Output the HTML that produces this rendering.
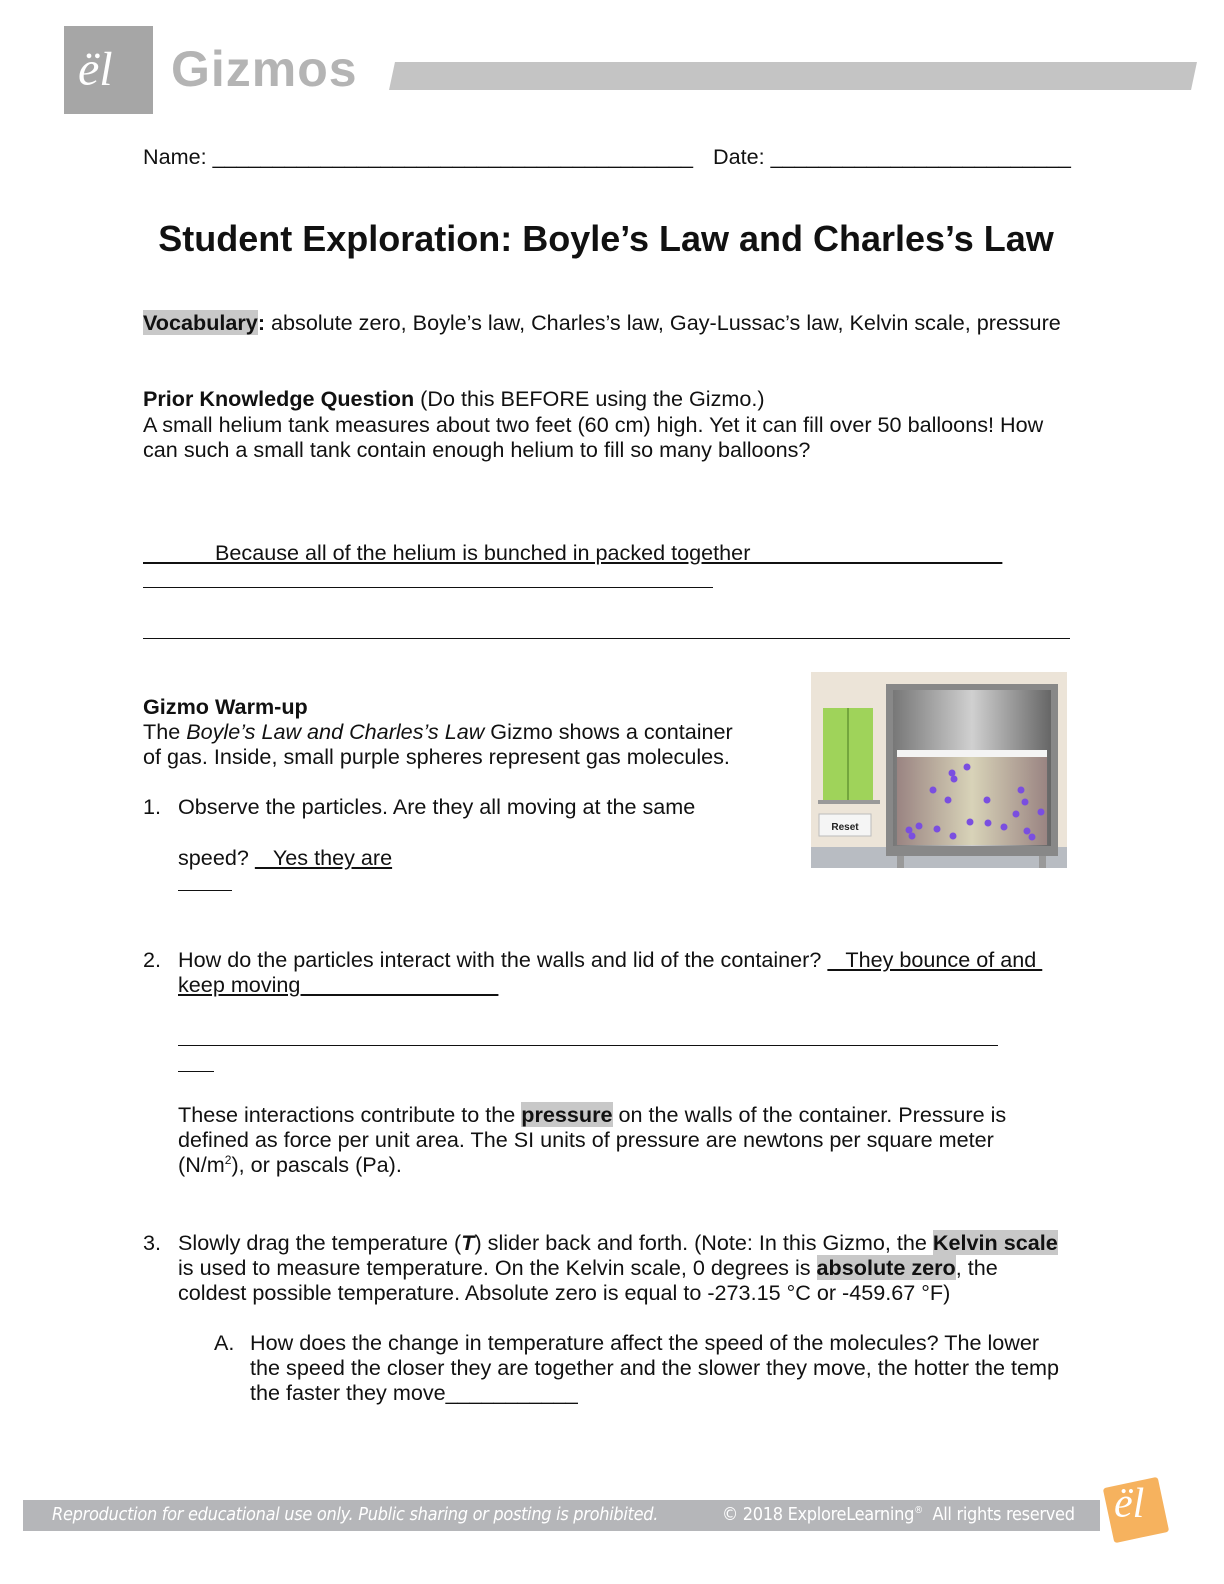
<!DOCTYPE html>
<html><head><meta charset="utf-8"><style>
body{margin:0;width:1224px;height:1584px;position:relative;background:#fff;font-family:"Liberation Sans",sans-serif;color:#111;overflow:hidden}
.t{position:absolute;font-size:21.6px;line-height:25px;white-space:nowrap}
.u{text-decoration:underline}
.hl{background:#c8c8c8}
b{font-weight:bold}
</style></head><body>
<div style="position:absolute;left:64px;top:26px;width:89px;height:88px;background:#a6a6a6"></div>
<div style="position:absolute;left:78px;top:42px;font:italic 48px 'Liberation Serif',serif;color:#fff">ël</div>
<div style="position:absolute;left:171px;top:40px;font:bold 50px 'Liberation Sans',sans-serif;color:#b4b4b4;letter-spacing:1px">Gizmos</div>
<div style="position:absolute;left:392px;top:62px;width:802px;height:28px;background:#c4c4c4;transform:skewX(-12deg)"></div>

<div class="t" style="left:143px;top:144px">Name: ________________________________________</div>
<div class="t" style="left:713px;top:144px">Date: _________________________</div>
<div style="position:absolute;left:0;width:1212px;top:218px;text-align:center;font-size:36px;font-weight:bold;white-space:nowrap">Student Exploration: Boyle’s Law and Charles’s Law</div>

<div class="t" style="left:143px;top:310px"><b class="hl">Vocabulary</b><b>:</b> absolute zero, Boyle’s law, Charles’s law, Gay-Lussac’s law, Kelvin scale, pressure</div>

<div class="t" style="left:143px;top:386px"><b>Prior Knowledge Question</b> (Do this BEFORE using the Gizmo.)</div>
<div class="t" style="left:143px;top:412px">A small helium tank measures about two feet (60 cm) high. Yet it can fill over 50 balloons! How</div>
<div class="t" style="left:143px;top:437px">can such a small tank contain enough helium to fill so many balloons?</div>
<div class="t u" style="left:143px;top:540px">&nbsp;&nbsp;&nbsp;&nbsp;&nbsp;&nbsp;&nbsp;&nbsp;&nbsp;&nbsp;&nbsp;&nbsp;Because all of the helium is bunched in packed together&nbsp;&nbsp;&nbsp;&nbsp;&nbsp;&nbsp;&nbsp;&nbsp;&nbsp;&nbsp;&nbsp;&nbsp;&nbsp;&nbsp;&nbsp;&nbsp;&nbsp;&nbsp;&nbsp;&nbsp;&nbsp;&nbsp;&nbsp;&nbsp;&nbsp;&nbsp;&nbsp;&nbsp;&nbsp;&nbsp;&nbsp;&nbsp;&nbsp;&nbsp;&nbsp;&nbsp;&nbsp;&nbsp;&nbsp;&nbsp;&nbsp;&nbsp;</div>
<div style="position:absolute;left:143px;top:587px;width:570px;border-top:1px solid #111"></div>
<div style="position:absolute;left:143px;top:638px;width:927px;border-top:1px solid #111"></div>

<div class="t" style="left:143px;top:694px"><b>Gizmo Warm-up</b></div>
<div class="t" style="left:143px;top:719px">The <i>Boyle’s Law and Charles’s Law</i> Gizmo shows a container</div>
<div class="t" style="left:143px;top:744px">of gas. Inside, small purple spheres represent gas molecules.</div>
<div class="t" style="left:143px;top:794px">1.</div>
<div class="t" style="left:178px;top:794px">Observe the particles. Are they all moving at the same</div>
<div class="t" style="left:178px;top:845px">speed? <span class="u">&nbsp;&nbsp;&nbsp;Yes they are</span></div>
<div style="position:absolute;left:178px;top:890px;width:54px;border-top:1px solid #111"></div>

<svg style="position:absolute;left:811px;top:672px" width="256" height="196" viewBox="0 0 256 196">
<defs>
<linearGradient id="lid" x1="0" x2="1"><stop offset="0" stop-color="#777"/><stop offset=".5" stop-color="#d0d0d0"/><stop offset="1" stop-color="#666"/></linearGradient>
<linearGradient id="gas" x1="0" x2="1"><stop offset="0" stop-color="#9a8482"/><stop offset=".5" stop-color="#d8d3b8"/><stop offset="1" stop-color="#9a8482"/></linearGradient>
</defs>
<rect width="256" height="196" fill="#ece4d8"/>
<rect y="175" width="256" height="21" fill="#b8bcc2"/>
<rect x="12" y="36" width="50" height="92" fill="#9fd35a"/>
<line x1="37" y1="36" x2="37" y2="128" stroke="#4a7a20"/>
<rect x="7" y="128" width="62" height="4" fill="#999"/>
<rect x="8" y="142" width="52" height="22" fill="#f5f5f5" stroke="#bbb"/>
<text x="34" y="158" text-anchor="middle" font-family="Liberation Sans" font-weight="bold" font-size="10" fill="#222">Reset</text>
<rect x="75" y="12" width="172" height="172" fill="#888"/>
<rect x="82" y="18" width="158" height="156" fill="url(#lid)"/>
<rect x="86" y="78" width="150" height="7" fill="#f4f4f4"/>
<rect x="86" y="85" width="150" height="88" fill="url(#gas)"/>
<g fill="#7a4ee0">
<circle cx="156" cy="95" r="3.5"/><circle cx="141" cy="101" r="3.5"/><circle cx="143" cy="107" r="3.5"/><circle cx="122" cy="118" r="3.5"/><circle cx="137" cy="128" r="3.5"/><circle cx="176" cy="128" r="3.5"/><circle cx="210" cy="118" r="3.5"/><circle cx="214" cy="130" r="3.5"/><circle cx="108" cy="154" r="3.5"/><circle cx="126" cy="157" r="3.5"/><circle cx="142" cy="164" r="3.5"/><circle cx="177" cy="151" r="3.5"/><circle cx="193" cy="155" r="3.5"/><circle cx="216" cy="159" r="3.5"/><circle cx="98" cy="158" r="3.5"/><circle cx="101" cy="164" r="3.5"/><circle cx="159" cy="150" r="3.5"/><circle cx="205" cy="142" r="3.5"/><circle cx="221" cy="165" r="3.5"/><circle cx="230" cy="140" r="3.5"/>
</g>
<rect x="86" y="184" width="7" height="12" fill="#999"/><rect x="228" y="184" width="7" height="12" fill="#999"/>
</svg>

<div class="t" style="left:143px;top:947px">2.</div>
<div class="t" style="left:178px;top:947px">How do the particles interact with the walls and lid of the container? <span class="u">&nbsp;&nbsp;&nbsp;They bounce of and&nbsp;</span></div>
<div class="t u" style="left:178px;top:972px">keep moving&nbsp;&nbsp;&nbsp;&nbsp;&nbsp;&nbsp;&nbsp;&nbsp;&nbsp;&nbsp;&nbsp;&nbsp;&nbsp;&nbsp;&nbsp;&nbsp;&nbsp;&nbsp;&nbsp;&nbsp;&nbsp;&nbsp;&nbsp;&nbsp;&nbsp;&nbsp;&nbsp;&nbsp;&nbsp;&nbsp;&nbsp;&nbsp;&nbsp;</div>
<div style="position:absolute;left:178px;top:1045px;width:820px;border-top:1px solid #111"></div>
<div style="position:absolute;left:178px;top:1071px;width:36px;border-top:1px solid #111"></div>
<div class="t" style="left:178px;top:1102px">These interactions contribute to the <b class="hl">pressure</b> on the walls of the container. Pressure is</div>
<div class="t" style="left:178px;top:1127px">defined as force per unit area. The SI units of pressure are newtons per square meter</div>
<div class="t" style="left:178px;top:1152px">(N/m<sup style="font-size:12px;line-height:0">2</sup>), or pascals (Pa).</div>

<div class="t" style="left:143px;top:1230px">3.</div>
<div class="t" style="left:178px;top:1230px">Slowly drag the temperature (<b><i>T</i></b>) slider back and forth. (Note: In this Gizmo, the <b class="hl">Kelvin scale</b></div>
<div class="t" style="left:178px;top:1255px">is used to measure temperature. On the Kelvin scale, 0 degrees is <b class="hl">absolute zero</b>, the</div>
<div class="t" style="left:178px;top:1280px">coldest possible temperature. Absolute zero is equal to -273.15 °C or -459.67 °F)</div>
<div class="t" style="left:214px;top:1330px">A.</div>
<div class="t" style="left:250px;top:1330px">How does the change in temperature affect the speed of the molecules? The lower</div>
<div class="t" style="left:250px;top:1355px">the speed the closer they are together and the slower they move, the hotter the temp</div>
<div class="t" style="left:250px;top:1380px">the faster they move___________</div>

<div style="position:absolute;left:23px;top:1500px;width:1077px;height:31px;background:#b5b6b9"></div>
<div style="position:absolute;left:52px;top:1504px;font:italic 18px 'DejaVu Sans Condensed','Liberation Sans',sans-serif;color:#fff;white-space:nowrap;letter-spacing:-0.3px">Reproduction for educational use only. Public sharing or posting is prohibited.</div>
<div style="position:absolute;left:722px;top:1504px;font:18px 'DejaVu Sans Condensed','Liberation Sans',sans-serif;color:#fff;white-space:nowrap;letter-spacing:-0.3px">© 2018 ExploreLearning<sup style="font-size:10px">®</sup>&nbsp; All rights reserved</div>
<div style="position:absolute;left:1108px;top:1482px;width:56px;height:56px;background:#f6b25e;transform:rotate(-12deg);border-radius:3px"></div>
<div style="position:absolute;left:1114px;top:1480px;font:italic 42px 'Liberation Serif',serif;color:#fff">ël</div>
</body></html>
